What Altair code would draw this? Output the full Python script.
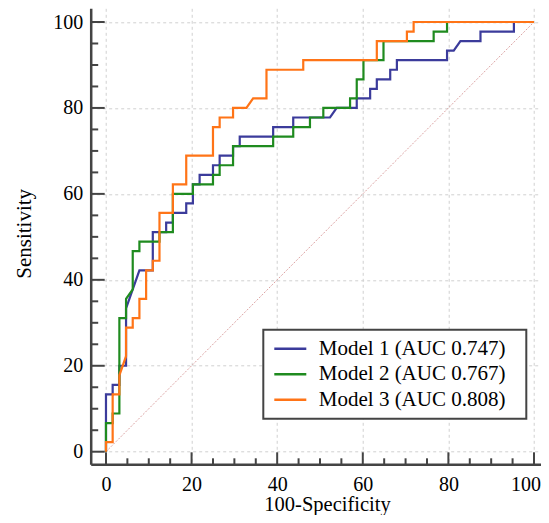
import altair as alt
import pandas as pd

# ---------------- data ----------------
series_names = ["Model 1 (AUC 0.747)", "Model 2 (AUC 0.767)", "Model 3 (AUC 0.808)"]
series_colors = ["#3b3b9b", "#1f8b1f", "#ff7417"]

m1_fpr = [0, 0, 1.56, 1.56, 3.13, 3.13, 4.69, 4.69, 7.81, 10.94, 10.94, 14.06, 14.06,
          15.63, 15.63, 18.75, 18.75, 20.31, 20.31, 21.88, 21.88, 25.0, 25.0, 26.56, 26.56,
          29.69, 29.69, 31.25, 31.25, 39.06, 39.06, 43.75, 43.75, 52.34, 53.91, 58.59, 58.59,
          61.72, 61.72, 63.28, 63.28, 66.41, 66.41, 67.97, 67.97, 79.69, 79.69, 81.25, 82.81,
          87.5, 87.5, 95.31, 95.31, 100]
m1_sens = [0, 13.33, 13.33, 15.56, 15.56, 20.0, 20.0, 33.33, 42.22, 42.22, 51.11, 51.11, 53.33,
           53.33, 55.56, 55.56, 57.78, 57.78, 62.22, 62.22, 64.44, 64.44, 66.67, 66.67, 68.89,
           68.89, 71.11, 71.11, 73.33, 73.33, 75.56, 75.56, 77.78, 77.78, 80.0, 80.0, 82.22,
           82.22, 84.44, 84.44, 86.67, 86.67, 88.89, 88.89, 91.11, 91.11, 93.33, 93.33, 95.56,
           95.56, 97.78, 97.78, 100, 100]

m2_fpr = [0, 0, 1.56, 1.56, 3.13, 3.13, 4.69, 4.69, 6.25, 6.25, 7.81, 7.81, 12.5, 12.5,
          15.63, 15.63, 20.31, 20.31, 25.0, 25.0, 26.56, 26.56, 29.69, 29.69, 39.06, 39.06,
          43.75, 43.75, 47.66, 47.66, 50.78, 50.78, 57.03, 57.03, 58.59, 58.59, 60.16, 60.16,
          64.84, 64.84, 76.56, 76.56, 79.69, 79.69, 100]
m2_sens = [0, 6.67, 6.67, 8.89, 8.89, 31.11, 31.11, 35.56, 37.78, 46.67, 46.67, 48.89, 48.89,
           51.11, 51.11, 60.0, 60.0, 62.22, 62.22, 64.44, 64.44, 66.67, 66.67, 71.11, 71.11,
           73.33, 73.33, 75.56, 75.56, 77.78, 77.78, 80.0, 80.0, 82.22, 82.22, 86.67, 86.67,
           91.11, 91.11, 95.56, 95.56, 97.78, 97.78, 100, 100]

m3_fpr = [0, 0, 1.56, 1.56, 3.13, 3.13, 4.69, 4.69, 6.25, 6.25, 7.81, 7.81, 9.38, 9.38,
          10.94, 10.94, 12.5, 12.5, 15.63, 15.63, 18.75, 18.75, 25.0, 25.0, 26.56, 26.56,
          29.69, 29.69, 32.81, 34.38, 37.5, 37.5, 46.09, 46.09, 63.28, 63.28, 70.31, 70.31,
          71.88, 71.88, 100]
m3_sens = [0, 2.22, 2.22, 13.33, 13.33, 17.78, 22.22, 28.89, 28.89, 31.11, 31.11, 35.56, 35.56,
           42.22, 42.22, 44.44, 44.44, 55.56, 55.56, 62.22, 62.22, 68.89, 68.89, 75.56, 75.56,
           77.78, 77.78, 80.0, 80.0, 82.22, 82.22, 88.89, 88.89, 91.11, 91.11, 95.56, 95.56,
           97.78, 97.78, 100, 100]

diag_x = [0, 100]
diag_y = [0, 100]

major_ticks = [0, 20, 40, 60, 80, 100]
minor_ticks = [0, 5, 10, 15, 20, 25, 30, 35, 40, 45, 50, 55, 60, 65, 70, 75, 80, 85, 90, 95, 100]

# ---------------- layout constants ----------------
W, H = 450.3, 456
XMIN = -3.57
XMAX = XMIN + W / 4.28
YMIN, YMAX = -2.93, 103.19
PX_PER_X = W / (XMAX - XMIN)
PX_PER_Y = H / (YMAX - YMIN)
FONT = "Liberation Serif"
AXIS_COL = "#444444"

rows = []
for name, xs, ys in zip(series_names, [m1_fpr, m2_fpr, m3_fpr], [m1_sens, m2_sens, m3_sens]):
    for i, (a, b) in enumerate(zip(xs, ys)):
        rows.append({"model": name, "i": i, "fpr": a, "sens": b})
curves = pd.DataFrame(rows)

diag = pd.DataFrame({"dx": diag_x, "dy": diag_y})

xt = pd.DataFrame({
    "tv": minor_ticks,
    "t0": [YMIN] * len(minor_ticks),
    "t1": [YMIN + (12 if v in major_ticks else 6) / PX_PER_Y for v in minor_ticks],
})
yt = pd.DataFrame({
    "tv": minor_ticks,
    "t0": [XMIN] * len(minor_ticks),
    "t1": [XMIN + (14 if v in major_ticks else 7.5) / PX_PER_X for v in minor_ticks],
})

xscale = alt.Scale(domain=[XMIN, XMAX], nice=False, zero=False)
yscale = alt.Scale(domain=[YMIN, YMAX], nice=False, zero=False)

x_axis = alt.Axis(
    title="100-Specificity", values=major_ticks, grid=True, labelPadding=10,
    labelAlign=alt.condition("datum.value >= 100", alt.value("right"), alt.value("center")),
    labelOffset=alt.condition("datum.value >= 100", alt.value(6.5), alt.value(0)),
    titleX=236.3, titleY=46.2, titleBaseline="alphabetic", titleAlign="center",
    titleFontSize=20.5,
)
y_axis = alt.Axis(title="Sensitivity", values=major_ticks, grid=True, labelPadding=8,
                  titleX=-59.7, titleY=225, titleBaseline="alphabetic", titleAngle=270,
                  titleAlign="center")


def X(f):
    return alt.X(f, type="quantitative", scale=xscale, axis=x_axis)


def Y(f):
    return alt.Y(f, type="quantitative", scale=yscale, axis=y_axis)


diag_layer = alt.Chart(diag).mark_line(color="#dca4a4", strokeWidth=1, strokeDash=[2, 1.5]).encode(
    x=X("dx"), y=Y("dy")
)

lines = alt.Chart(curves).mark_line(strokeWidth=2.2, interpolate="linear").encode(
    x=X("fpr"),
    y=Y("sens"),
    order="i:Q",
    color=alt.Color(
        "model:N",
        scale=alt.Scale(domain=series_names, range=series_colors),
        legend=alt.Legend(
            title="\u00a0", titleOrient="right", titlePadding=12, titleFontSize=21,
            titleFont=FONT,
            orient="none", legendX=172.6, legendY=321.5,
            symbolType="M-1,0H3", symbolSize=256, symbolStrokeWidth=2.5,
            labelFont=FONT, labelFontSize=21, labelColor="black", labelLimit=500,
            labelOffset=26, rowPadding=3.5, padding=8.5,
            fillColor="white", strokeColor=AXIS_COL,
        ),
    ),
)

xtick_layer = alt.Chart(xt).mark_rule(color=AXIS_COL, strokeWidth=2).encode(
    x=X("tv"), y=Y("t0"), y2="t1"
)
ytick_layer = alt.Chart(yt).mark_rule(color=AXIS_COL, strokeWidth=2).encode(
    y=Y("tv"), x=X("t0"), x2="t1"
)

chart = alt.layer(diag_layer, lines, xtick_layer, ytick_layer).properties(
    width=W, height=H,
    autosize=alt.AutoSizeParams(type="none"),
    padding={"left": 82.7, "top": 0.3, "right": 0, "bottom": 50.7},
    background="white",
).configure_view(stroke=None).configure_axis(
    labelFont=FONT, labelFontSize=20, labelColor="black", labelFlush=False,
    titleFont=FONT, titleFontSize=21, titleFontWeight="normal", titleColor="black",
    domainColor=AXIS_COL, domainWidth=2.5, ticks=False, tickSize=0,
    gridColor="#d0d0d0", gridDash=[3, 3], gridWidth=1,
).configure_legend(strokeWidth=2)

chart.save("out.html", embed_options={"renderer": "svg", "actions": False})
